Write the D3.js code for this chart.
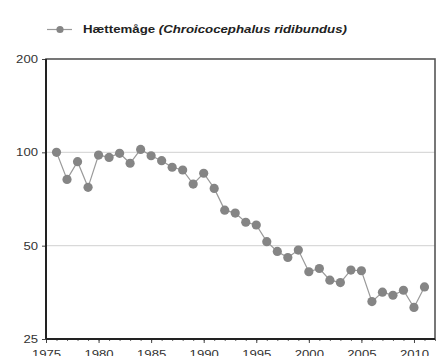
<!DOCTYPE html>
<html>
<head>
<meta charset="utf-8">
<script src="https://cdn.jsdelivr.net/npm/d3@7"></script>
<style>
  body { margin: 0; background: #fff; }
  text { font-family: Arial, "Liberation Sans", sans-serif; }
</style>
</head>
<body>
<svg width="439" height="356"></svg>
<script>
var years = [1976, 1977, 1978, 1979, 1980, 1981, 1982, 1983, 1984, 1985,
             1986, 1987, 1988, 1989, 1990, 1991, 1992, 1993, 1994, 1995,
             1996, 1997, 1998, 1999, 2000, 2001, 2002, 2003, 2004, 2005,
             2006, 2007, 2008, 2009, 2010, 2011];
var index = [100, 81.8, 93.3, 77.1, 98, 96.3, 99.3, 92.2, 102.2, 97.5,
             94, 89.5, 87.7, 79, 85.6, 76.5, 65.1, 63.7, 59.5, 58.3,
             51.5, 47.9, 45.8, 48.4, 41.2, 42.2, 38.7, 38, 41.7, 41.5,
             33, 35.4, 34.6, 35.9, 31.6, 36.8];
var yTicks = [25, 50, 100, 200];
var xTicks = [1975, 1980, 1985, 1990, 1995, 2000, 2005, 2010];
var seriesName = 'Hættemåge';
var latinName = '(Chroicocephalus ridibundus)';

var svg = d3.select('svg'),
    mLeft = 46, mRight = 435, mTop = 59, mBottom = 339;

var x = d3.scaleLinear().domain([1975, 2012]).range([mLeft, mRight]),
    y = d3.scaleLog().domain([25, 200]).range([mBottom, mTop]);

// the source image is stretched sideways, so stretch the digits too
function stretch(sel) {
  sel.attr('textLength', function() { return this.textContent.length * 7.3; })
     .attr('lengthAdjust', 'spacingAndGlyphs');
}

// gridlines
svg.selectAll('.grid')
  .data([50, 100])
  .enter().append('line')
  .attr('x1', mLeft).attr('x2', mRight)
  .attr('y1', function(d) { return y(d); })
  .attr('y2', function(d) { return y(d); })
  .attr('stroke', '#d9d9d9').attr('stroke-width', 1.2);

// y axis
var yAxis = svg.append('g')
  .attr('transform', 'translate(' + mLeft + ',0)')
  .call(d3.axisLeft(y).tickValues(yTicks).tickFormat(d3.format('d')).tickSize(4).tickPadding(4));
yAxis.select('.domain').remove();
yAxis.selectAll('line').attr('stroke', '#444');
yAxis.selectAll('text').attr('font-size', 10.5).attr('fill', '#333').call(stretch);

// x axis (minor + major)
var minor = svg.append('g')
  .attr('transform', 'translate(0,' + mBottom + ')')
  .call(d3.axisBottom(x).tickValues(d3.range(1975, 2013)).tickFormat('').tickSize(2));
minor.select('.domain').remove();
minor.selectAll('line').attr('stroke', '#666');

var xAxis = svg.append('g')
  .attr('transform', 'translate(0,' + mBottom + ')')
  .call(d3.axisBottom(x).tickValues(xTicks).tickFormat(d3.format('d')).tickSize(4).tickPadding(8));
xAxis.select('.domain').remove();
xAxis.selectAll('line').attr('stroke', '#444');
xAxis.selectAll('text').attr('font-size', 10.5).attr('fill', '#333').call(stretch);

// frame
svg.append('rect')
  .attr('x', mLeft).attr('y', mTop)
  .attr('width', mRight - mLeft).attr('height', mBottom - mTop)
  .attr('fill', 'none').attr('stroke', '#555').attr('stroke-width', 1.6);
svg.append('line')
  .attr('x1', mLeft).attr('x2', mLeft).attr('y1', mTop).attr('y2', mBottom)
  .attr('stroke', '#222').attr('stroke-width', 2);
svg.append('line')
  .attr('x1', mLeft).attr('x2', mRight).attr('y1', mBottom).attr('y2', mBottom)
  .attr('stroke', '#222').attr('stroke-width', 2);

// series
var data = years.map(function(d, i) { return { year: d, value: index[i] }; });
var line = d3.line()
  .x(function(d) { return x(d.year); })
  .y(function(d) { return y(d.value); });

svg.append('path')
  .datum(data)
  .attr('d', line)
  .attr('fill', 'none')
  .attr('stroke', '#9a9a9a')
  .attr('stroke-width', 1.2);

svg.selectAll('.pt')
  .data(data)
  .enter().append('circle')
  .attr('cx', function(d) { return x(d.year); })
  .attr('cy', function(d) { return y(d.value); })
  .attr('r', 4.6)
  .attr('fill', '#858585');

// legend
var lg = svg.append('g').attr('transform', 'translate(47,29.5)');
lg.append('line').attr('x1', 0).attr('x2', 25).attr('stroke', '#9a9a9a').attr('stroke-width', 1.2);
lg.append('circle').attr('cx', 13).attr('r', 3.6).attr('fill', '#858585');
var lt = lg.append('text').attr('x', 36).attr('y', 3.8)
  .attr('font-size', 10.5).attr('font-weight', 'bold').attr('fill', '#222')
  .attr('textLength', 264).attr('lengthAdjust', 'spacingAndGlyphs');
lt.append('tspan').text(seriesName + ' ');
lt.append('tspan').attr('font-style', 'italic').text(latinName);
</script>
</body>
</html>
